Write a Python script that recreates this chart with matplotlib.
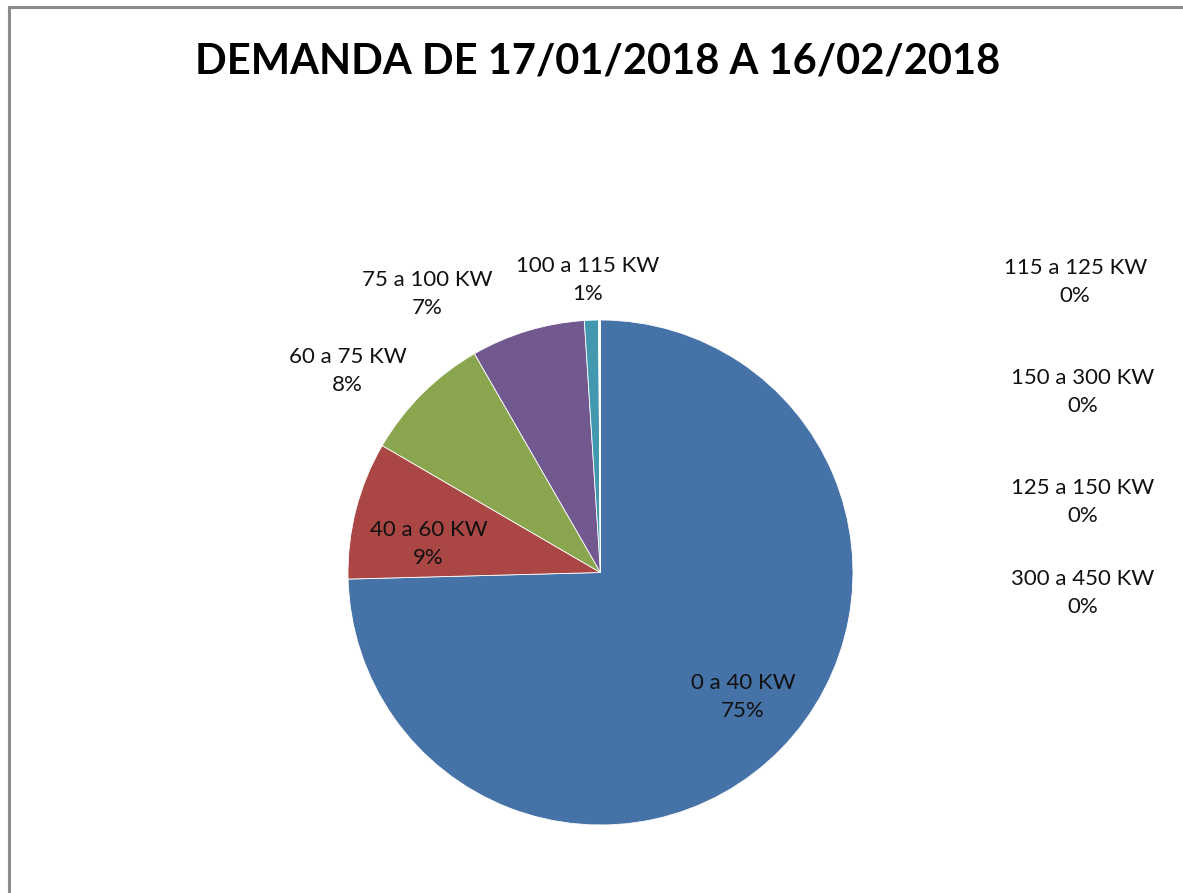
import matplotlib.pyplot as plt
from matplotlib.lines import Line2D
import numpy as np

plt.rcParams['font.family'] = ['Lato', 'DejaVu Sans']

# data (percent of time in each demand band)
categories = ["0 a 40 KW", "40 a 60 KW", "60 a 75 KW", "75 a 100 KW", "100 a 115 KW",
              "115 a 125 KW", "150 a 300 KW", "125 a 150 KW", "300 a 450 KW"]
values = [74.6, 8.8, 8.3, 7.3, 0.9, 0.03, 0.03, 0.03, 0.03]
shown_pct = ["75%", "9%", "8%", "7%", "1%", "0%", "0%", "0%", "0%"]
colors = ["#4572A7", "#AA4643", "#89A54E", "#71588F", "#4198AF",
          "#DB843D", "#93A9CF", "#D19392", "#B9CD96"]

fig = plt.figure(figsize=(11.83, 8.93), dpi=100)
ax = fig.add_axes([0.0, 0.0, 1.0, 1.0])

wedges, _ = ax.pie(values, colors=colors, startangle=90, counterclock=False,
                   radius=1.0, wedgeprops=dict(edgecolor="white", linewidth=0.6))

# pie centre is placed at about (600, 572) px with radius ~252 px
ax.set_aspect("equal")
W, H = 1183, 893
cx, cy, r = 600.5, 572.5, 252.5
ax.set_xlim(-cx / r, (W - cx) / r)
ax.set_ylim(-(H - cy) / r, cy / r)
ax.axis("off")

# label placement: (radius factor, angle offset) for slices, fixed spot for the zero ones
label_r = [0.75, 0.69, 1.28, 1.30, 1.16]
label_shift = [3.1, 4.8, 6.6, 15.1, 0.5]
for i in range(5):
    w = wedges[i]
    mid = np.deg2rad((w.theta1 + w.theta2) / 2 + label_shift[i])
    x = label_r[i] * np.cos(mid)
    y = label_r[i] * np.sin(mid)
    ax.text(x, y, categories[i] + "\n" + shown_pct[i], ha="center", va="center",
            fontsize=16, color="#111111", linespacing=1.5)

zero_pos = [(1.88, 1.15), (1.91, 0.714), (1.91, 0.278), (1.91, -0.083)]
for j, (x, y) in enumerate(zero_pos):
    k = 5 + j
    ax.text(x, y, categories[k] + "\n" + shown_pct[k], ha="center", va="center",
            fontsize=16, color="#111111", linespacing=1.5)

fig.text(598 / W, 1 - 61 / H, "DEMANDA DE 17/01/2018 A 16/02/2018", ha="center", va="center",
         fontsize=30, fontweight="bold", color="black")

# chart frame (only top and left edges are visible in the crop)
fig.add_artist(Line2D([8.5 / W, 1.0], [1 - 7 / H, 1 - 7 / H], color="#8c8c8c", linewidth=2.2,
                      transform=fig.transFigure))
fig.add_artist(Line2D([8.5 / W, 8.5 / W], [0.0, 1 - 7 / H], color="#8c8c8c", linewidth=2.2,
                      transform=fig.transFigure))

fig.savefig("out.png", dpi=100)
